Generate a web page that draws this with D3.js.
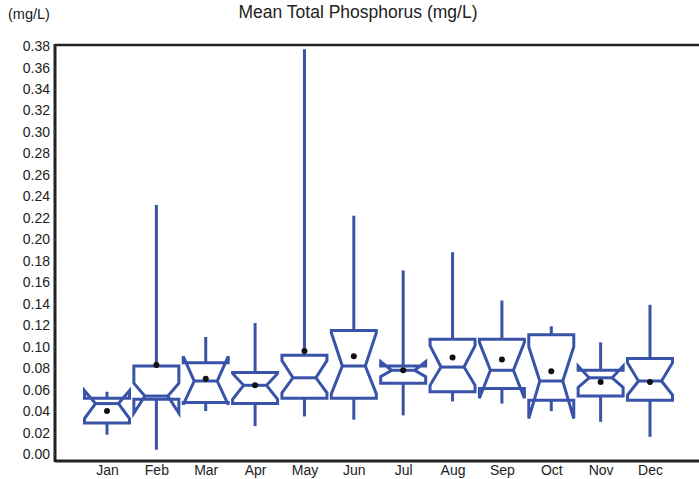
<!DOCTYPE html>
<html>
<head>
<meta charset="utf-8">
<script src="https://cdn.jsdelivr.net/npm/d3@7"></script>
<style>
	body { margin: 0; background: #fff; }
	text { font-family: "Liberation Sans", Arial, sans-serif; fill: #222; }
</style>
</head>
<body>
<svg id="chart" width="699" height="479"></svg>
<script>
// values
const months    = ["Jan", "Feb", "Mar", "Apr", "May", "Jun", "Jul", "Aug", "Sep", "Oct", "Nov", "Dec"];
const whiskerLo = [0.018, 0.004, 0.040, 0.026, 0.035, 0.032, 0.036, 0.049, 0.047, 0.040, 0.030, 0.016];
const q1        = [0.029, 0.051, 0.048, 0.047, 0.052, 0.052, 0.066, 0.058, 0.061, 0.050, 0.054, 0.050];
const notchLo   = [0.033, 0.038, 0.046, 0.051, 0.057, 0.056, 0.072, 0.064, 0.052, 0.033, 0.062, 0.055];
const median    = [0.047, 0.054, 0.068, 0.064, 0.071, 0.082, 0.078, 0.081, 0.078, 0.068, 0.071, 0.068];
const notchHi   = [0.059, 0.066, 0.091, 0.075, 0.087, 0.113, 0.086, 0.101, 0.104, 0.100, 0.082, 0.085];
const q3        = [0.052, 0.082, 0.085, 0.076, 0.092, 0.115, 0.082, 0.107, 0.107, 0.111, 0.078, 0.089];
const whiskerHi = [0.058, 0.232, 0.109, 0.122, 0.377, 0.222, 0.171, 0.188, 0.143, 0.119, 0.104, 0.139];
const means     = [0.040, 0.083, 0.070, 0.064, 0.096, 0.091, 0.078, 0.090, 0.088, 0.077, 0.067, 0.067];
const yTicks    = d3.range(0, 20).map(i => +(i * 0.02).toFixed(2));

const title = "Mean Total Phosphorus (mg/L)";
const yUnit = "(mg/L)";

const blue = "#3853a8";
const halfW = 22.5;   // half box width
const indent = 11;    // notch depth

let svg = d3.select("#chart");

let x = d3.scalePoint().domain(months).range([107, 650]);
let y = d3.scaleLinear().domain([-0.0065, 0.381]).range([461, 45]);

// frame: left axis, top and bottom lines
svg.append("line").attr("x1", 55).attr("x2", 699).attr("y1", 45).attr("y2", 45)
	.attr("stroke", "#222").attr("stroke-width", 2.5);
svg.append("line").attr("x1", 55).attr("x2", 699).attr("y1", 461).attr("y2", 461)
	.attr("stroke", "#222").attr("stroke-width", 3);

let yAxis = d3.axisLeft(y).tickValues(yTicks).tickFormat(d3.format(".2f")).tickSize(2).tickPadding(3);
let gy = svg.append("g").attr("transform", "translate(55,0)").call(yAxis);
gy.select(".domain").attr("d", "M0,44V462").attr("stroke", "#222").attr("stroke-width", 3);
gy.selectAll(".tick line").attr("stroke", "#666");
gy.selectAll(".tick text").attr("font-size", 14).attr("fill", "#222");

let xAxis = d3.axisBottom(x).tickSize(0).tickPadding(4);
let gx = svg.append("g").attr("transform", "translate(0,461)").call(xAxis);
gx.select(".domain").remove();
gx.selectAll(".tick text").attr("font-size", 14).attr("fill", "#222");

svg.append("text").attr("x", 358).attr("y", 18).attr("text-anchor", "middle")
	.attr("font-size", 17.5).text(title);
svg.append("text").attr("x", 8).attr("y", 19).attr("font-size", 14.5).text(yUnit);

let boxes = svg.append("g").selectAll("g").data(months).enter().append("g");

// whiskers
boxes.append("line")
	.attr("x1", d => x(d)).attr("x2", d => x(d))
	.attr("y1", (d, i) => y(whiskerHi[i])).attr("y2", (d, i) => y(q3[i]))
	.attr("stroke", blue).attr("stroke-width", 3);
boxes.append("line")
	.attr("x1", d => x(d)).attr("x2", d => x(d))
	.attr("y1", (d, i) => y(q1[i])).attr("y2", (d, i) => y(whiskerLo[i]))
	.attr("stroke", blue).attr("stroke-width", 3);

// notched boxes (notch may fold past the quartiles)
boxes.append("path")
	.attr("d", (d, i) => {
		let cx = x(d), l = cx - halfW, r = cx + halfW;
		let pts = [
			[l, y(q1[i])], [l, y(notchLo[i])], [l + indent, y(median[i])], [l, y(notchHi[i])], [l, y(q3[i])],
			[r, y(q3[i])], [r, y(notchHi[i])], [r - indent, y(median[i])], [r, y(notchLo[i])], [r, y(q1[i])]
		];
		return d3.line()(pts) + "Z";
	})
	.attr("fill", "none").attr("stroke", blue).attr("stroke-width", 3).attr("stroke-linejoin", "miter");

// median lines
boxes.append("line")
	.attr("x1", d => x(d) - halfW + indent).attr("x2", d => x(d) + halfW - indent)
	.attr("y1", (d, i) => y(median[i])).attr("y2", (d, i) => y(median[i]))
	.attr("stroke", blue).attr("stroke-width", 3);

// means
boxes.append("circle")
	.attr("cx", d => x(d)).attr("cy", (d, i) => y(means[i])).attr("r", 3)
	.attr("fill", "#111");
</script>
</body>
</html>
